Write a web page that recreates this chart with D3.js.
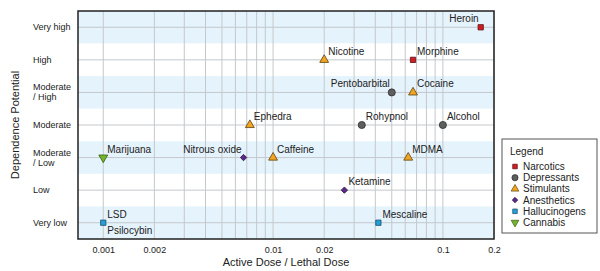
<!DOCTYPE html>
<html><head><meta charset="utf-8">
<script src="https://cdn.jsdelivr.net/npm/d3@7"></script>
<style>body{margin:0;background:#fff}svg{display:block;font-family:"Liberation Sans",Arial,sans-serif}</style>
</head><body><svg id="c" width="600" height="271"></svg>
<script>
const levels = ["Very high","High","Moderate / High","Moderate","Moderate / Low","Low","Very low"];
const drugs = ["Heroin","Morphine","Nicotine","Pentobarbital","Cocaine","Rohypnol","Alcohol","Ephedra","Marijuana","Nitrous oxide","Caffeine","MDMA","Ketamine","Mescaline","LSD","Psilocybin"];
const classes = ["Narcotics","Narcotics","Stimulants","Depressants","Stimulants","Depressants","Depressants","Stimulants","Cannabis","Anesthetics","Stimulants","Stimulants","Anesthetics","Hallucinogens","Hallucinogens","Hallucinogens"];
const doseRatio = [0.167,0.0667,0.02,0.05,0.0667,0.0333,0.1,0.0073,0.001,0.0067,0.01,0.0625,0.0263,0.0417,0.001,0.001];
const dependence = ["Very high","High","High","Moderate / High","Moderate / High","Moderate","Moderate","Moderate","Moderate / Low","Moderate / Low","Moderate / Low","Moderate / Low","Low","Very low","Very low","Very low"];
const tickValues = [0.001,0.002,0.01,0.02,0.1,0.2];
const legendClasses = ["Narcotics","Depressants","Stimulants","Anesthetics","Hallucinogens","Cannabis"];
// label placement style (not data)
const labelSide = {"Heroin":"end","Pentobarbital":"end","Nitrous oxide":"end","Psilocybin":"below"};

const style = {
  Narcotics:{sym:d3.symbolSquare,size:28,fill:"#d01c24",stroke:"#5a1010"},
  Depressants:{sym:d3.symbolCircle,size:40,fill:"#5e5e5e",stroke:"#2e2e2e"},
  Stimulants:{sym:d3.symbolTriangle,size:34,fill:"#f3a51f",stroke:"#5a4010"},
  Anesthetics:{sym:d3.symbolSquare,size:20,fill:"#5b2a86",stroke:"#2e1545",rot:45},
  Hallucinogens:{sym:d3.symbolSquare,size:28,fill:"#22a0d8",stroke:"#1b4c6a"},
  Cannabis:{sym:d3.symbolTriangle,size:34,fill:"#72b52c",stroke:"#3a5a18",rot:180}
};

const svg = d3.select("#c");
const L=78,R=494,T=11,B=239;
const x = d3.scaleLog().domain([0.00071,0.2]).range([L,R]);
const y = d3.scaleBand().domain(levels).range([T,B]).padding(0);

// bands
svg.append("g").selectAll("rect").data(levels).join("rect")
  .attr("x",L).attr("y",d=>y(d)).attr("width",R-L).attr("height",y.bandwidth())
  .attr("fill",(d,i)=>i%2===0?"#e5f3fc":"#ffffff");

// vertical grid
const gridVals = [];
[0.001,0.01,0.1].forEach(b=>{for(let k=1;k<=9;k++){const v=b*k; if(v<=0.2000001) gridVals.push(v);}});
svg.append("g").selectAll("line").data(gridVals).join("line")
  .attr("x1",d=>x(d)).attr("x2",d=>x(d)).attr("y1",T).attr("y2",B)
  .attr("stroke","#c4c8cc").attr("stroke-width",1);
// horizontal grid
svg.append("g").selectAll("line").data(levels).join("line")
  .attr("x1",L).attr("x2",R).attr("y1",d=>y(d)+y.bandwidth()/2).attr("y2",d=>y(d)+y.bandwidth()/2)
  .attr("stroke","#c4c8cc").attr("stroke-width",1);

// border
svg.append("rect").attr("x",L).attr("y",T).attr("width",R-L).attr("height",B-T)
  .attr("fill","none").attr("stroke","#222").attr("stroke-width",1.5);

// x axis
const xa = svg.append("g").attr("transform",`translate(0,${B})`)
  .call(d3.axisBottom(x).tickValues(tickValues).tickFormat(d3.format("")).tickSize(0).tickPadding(8));
xa.select(".domain").remove();
xa.selectAll("text").attr("font-size",9).attr("fill","#222").attr("font-family","Liberation Sans, Arial, sans-serif");

// y axis labels
const ya = svg.append("g");
levels.forEach(lv=>{
  const parts = lv.split(" / ");
  const cy = y(lv)+y.bandwidth()/2;
  const t = ya.append("text").attr("x",33).attr("font-size",9).attr("fill","#222");
  if(parts.length===1){ t.attr("y",cy+3).text(lv); }
  else {
    t.append("tspan").attr("x",33).attr("y",cy-2).text(parts[0]);
    t.append("tspan").attr("x",33).attr("y",cy+8).text("/ "+parts[1]);
  }
});

// axis titles
svg.append("text").attr("x",(L+R)/2).attr("y",266).attr("text-anchor","middle")
  .attr("font-size",11).attr("fill","#222").text("Active Dose / Lethal Dose");
svg.append("text").attr("transform",`translate(19,${(T+B)/2}) rotate(-90)`).attr("text-anchor","middle")
  .attr("font-size",11).attr("fill","#222").text("Dependence Potential");

// points
const data = drugs.map((n,i)=>({name:n,cls:classes[i],v:doseRatio[i],dep:dependence[i]}));
const sym = d3.symbol();
const pts = svg.append("g");
data.forEach(d=>{
  const s = style[d.cls];
  const px = x(d.v), py = y(d.dep)+y.bandwidth()/2;
  if(d.name!=="Psilocybin"){
    pts.append("path").attr("d",sym.type(s.sym).size(s.size)())
      .attr("transform",`translate(${px},${py})${s.rot?` rotate(${s.rot})`:""}`)
      .attr("fill",s.fill).attr("stroke",s.stroke).attr("stroke-width",0.8);
  }
  const side = labelSide[d.name]||"start";
  const t = pts.append("text").attr("font-size",10).attr("fill","#222").text(d.name);
  if(side==="start") t.attr("x",px+4).attr("y",py-5);
  else if(side==="end") t.attr("x",px-2).attr("y",py-5).attr("text-anchor","end");
  else t.attr("x",px+4).attr("y",py+11);
});

// legend
const lg = svg.append("g");
lg.append("rect").attr("x",502).attr("y",139).attr("width",95).attr("height",94)
  .attr("fill","#fff").attr("stroke","#555").attr("stroke-width",1);
lg.append("text").attr("x",510).attr("y",155).attr("font-size",10).attr("fill","#222").text("Legend");
legendClasses.forEach((c,i)=>{
  const s = style[c]; const cy = 166.5+i*11.2;
  lg.append("path").attr("d",sym.type(s.sym).size(s.size*0.75)())
    .attr("transform",`translate(515,${cy})${s.rot?` rotate(${s.rot})`:""}`)
    .attr("fill",s.fill).attr("stroke",s.stroke).attr("stroke-width",0.7);
  lg.append("text").attr("x",523).attr("y",cy+3.5).attr("font-size",10).attr("fill","#222").text(c);
});
</script></body></html>
